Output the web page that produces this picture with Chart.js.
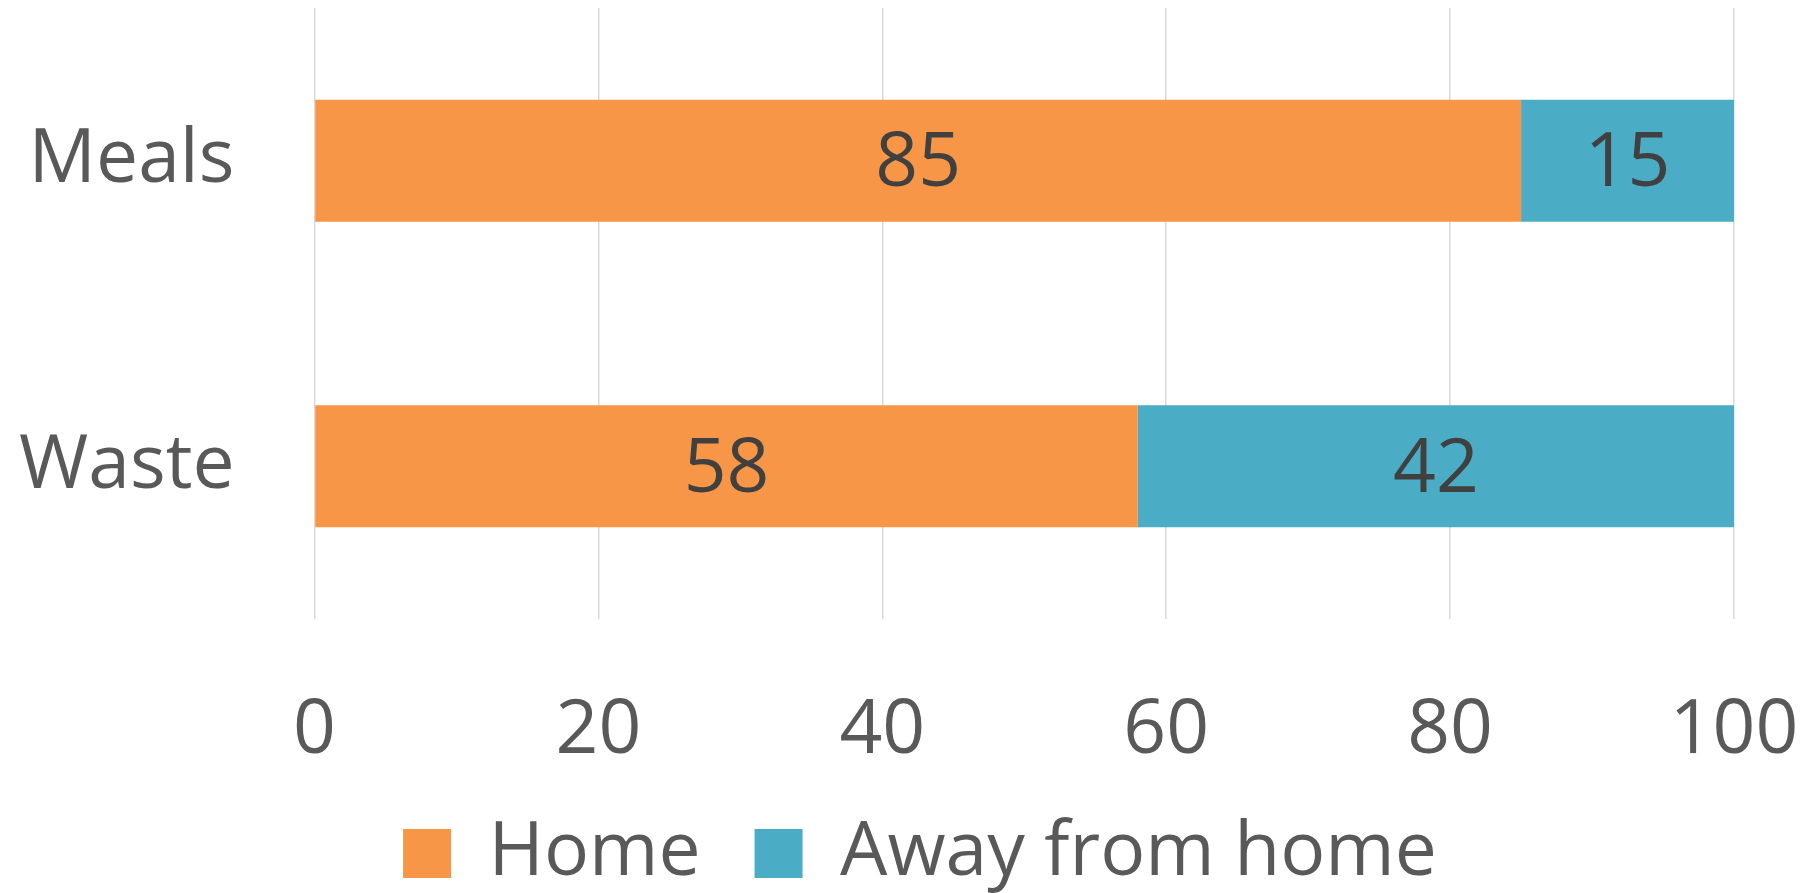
<!DOCTYPE html>
<html>
<head>
<meta charset="utf-8">
<script src="https://cdn.jsdelivr.net/npm/chart.js@4/dist/chart.umd.min.js"></script>
<style>
  html, body { margin: 0; padding: 0; background: #ffffff; }
  #wrap { width: 1806px; height: 893px; }
</style>
</head>
<body>
<div id="wrap"><canvas id="shareChart" width="1806" height="893"></canvas></div>
<script>
// ===== HOME VS AWAY SHARE, STACKED HORIZONTAL BARS =====

const categories = ["Meals", "Waste"];
const homeValues = [85, 58];
const awayValues = [15, 42];
const seriesNames = ["Home", "Away from home"];
const xTicks = [0, 20, 40, 60, 80, 100];

const FONT = "'Open Sans', 'Noto Sans', sans-serif";
const AXIS_TEXT = "#595959";

// values written in the middle of each bar segment
const barValueLabels = {
  id: "barValueLabels",
  afterDatasetsDraw(chart) {
    const ctx = chart.ctx;
    ctx.save();
    ctx.font = "75px " + FONT;
    ctx.fillStyle = "#404040";
    ctx.textAlign = "center";
    ctx.textBaseline = "middle";
    chart.data.datasets.forEach((ds, i) => {
      const meta = chart.getDatasetMeta(i);
      meta.data.forEach((bar, j) => {
        const cx = (bar.x + bar.base) / 2;
        ctx.fillText(String(ds.data[j]), cx, bar.y + 4);
      });
    });
    ctx.restore();
  }
};

const ctx = document.getElementById("shareChart").getContext("2d");

new Chart(ctx, {
  type: "bar",
  data: {
    labels: categories,
    datasets: [
      {
        label: seriesNames[0],
        data: homeValues,
        backgroundColor: "#F79646",
        borderWidth: 0,
        categoryPercentage: 0.4,
        barPercentage: 1.0
      },
      {
        label: seriesNames[1],
        data: awayValues,
        backgroundColor: "#4BACC6",
        borderWidth: 0,
        categoryPercentage: 0.4,
        barPercentage: 1.0
      }
    ]
  },
  options: {
    indexAxis: "y",
    responsive: false,
    animation: false,
    layout: {
      // negative right/bottom widen the legend box so the row sits right of centre
      padding: { top: 8, right: -20, bottom: -8, left: 14 }
    },
    plugins: {
      legend: {
        position: "bottom",
        labels: {
          color: AXIS_TEXT,
          font: { size: 75, family: FONT },
          boxWidth: 48,
          boxHeight: 49,
          padding: 54
        }
      },
      tooltip: { enabled: false }
    },
    scales: {
      x: {
        stacked: true,
        min: 0,
        max: 100,
        afterBuildTicks: scale => {
          scale.ticks = xTicks.map(v => ({ value: v }));
        },
        afterFit: scale => {
          scale.height = 143;
          // fixed gap right of the plot, "0" may hang past the left edge
          scale.paddingLeft = 0;
          scale.paddingRight = 72;
        },
        grid: {
          color: "#D9D9D9",
          lineWidth: 1.5,
          drawTicks: false
        },
        border: { display: false },
        ticks: {
          color: AXIS_TEXT,
          font: { size: 75, family: FONT, lineHeight: 0.8 },
          padding: 83,
          maxRotation: 0
        }
      },
      y: {
        stacked: true,
        afterFit: scale => {
          scale.width = 300.5;
          scale.paddingTop = 0;
          scale.paddingBottom = 0;
        },
        grid: { display: false, drawTicks: false },
        border: { display: false },
        ticks: {
          color: AXIS_TEXT,
          font: { size: 75, family: FONT },
          padding: 80
        }
      }
    }
  },
  plugins: [barValueLabels]
});
</script>
</body>
</html>
